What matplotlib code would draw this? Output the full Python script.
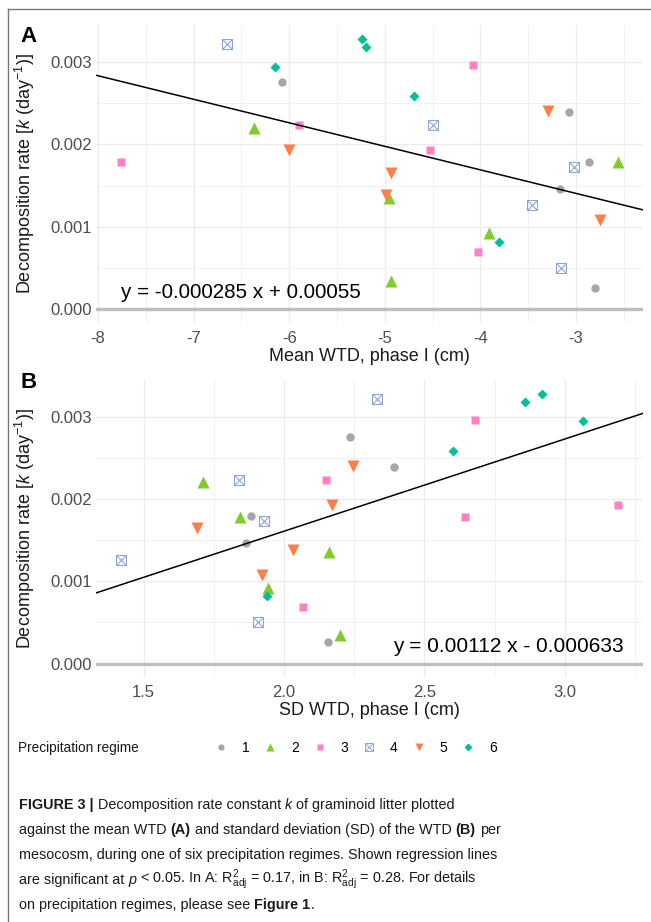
import matplotlib
matplotlib.use("Agg")
import matplotlib.pyplot as plt
import numpy as np
from matplotlib.lines import Line2D
from matplotlib.ticker import MultipleLocator, FormatStrFormatter

plt.rcParams['font.family'] = ['Liberation Sans', 'DejaVu Sans']
plt.rcParams['axes.unicode_minus'] = False
plt.rcParams['mathtext.fontset'] = 'custom'
plt.rcParams['mathtext.rm'] = 'Liberation Sans'
plt.rcParams['mathtext.it'] = 'Liberation Sans:italic'
plt.rcParams['mathtext.bf'] = 'Liberation Sans:bold'

# data: decomposition rate k per mesocosm, by precipitation regime
regimes = ['1', '2', '3', '4', '5', '6']
k_rate = {
    '1': [0.00275, 0.00239, 0.00179, 0.00146, 0.00026],
    '2': [0.00220, 0.00178, 0.00135, 0.00092, 0.00035],
    '3': [0.00296, 0.00223, 0.00193, 0.00178, 0.00069],
    '4': [0.00321, 0.00223, 0.00173, 0.00126, 0.00050],
    '5': [0.00240, 0.00193, 0.00165, 0.00138, 0.00108],
    '6': [0.00328, 0.00318, 0.00294, 0.00258, 0.00082],
}
mean_wtd = {
    '1': [-6.08, -3.07, -2.86, -3.17, -2.80],
    '2': [-6.37, -2.56, -4.96, -3.91, -4.93],
    '3': [-4.08, -5.90, -4.53, -7.76, -4.03],
    '4': [-6.65, -4.50, -3.02, -3.46, -3.16],
    '5': [-3.29, -6.00, -4.94, -4.99, -2.75],
    '6': [-5.24, -5.20, -6.15, -4.69, -3.81],
}
sd_wtd = {
    '1': [2.236, 2.393, 1.882, 1.863, 2.155],
    '2': [1.713, 1.845, 2.159, 1.944, 2.200],
    '3': [2.682, 2.148, 3.190, 2.645, 2.068],
    '4': [2.331, 1.841, 1.927, 1.419, 1.908],
    '5': [2.245, 2.170, 1.690, 2.033, 1.920],
    '6': [2.920, 2.859, 3.064, 2.601, 1.939],
}
fit_a = (-0.000285, 0.00055)
fit_b = (0.00112, -0.000633)

colors = {'1': '#A6A6A6', '2': '#7FCC2E', '3': '#FF80C4', '4': '#8FA5D0',
          '5': '#FF7F4A', '6': '#00BF99'}
markers = {'1': 'o', '2': '^', '3': 's', '4': 's', '5': 'v', '6': 'D'}
msize = {'1': 6, '2': 8, '3': 6, '4': 7, '5': 8, '6': 5.5}

W, H = 651, 922
fig = plt.figure(figsize=(W / 100, H / 100), dpi=100)

# page frame
fig.add_artist(Line2D([8 / W, 8 / W], [0, 1 - 9 / H], color='#777777', lw=1))
fig.add_artist(Line2D([8 / W, 1], [1 - 9 / H, 1 - 9 / H], color='#777777', lw=1))


def panel(ax, xdata, fit, xmajor, xfmt, xlabel):
    allx = np.concatenate([xdata[r] for r in regimes])
    ally = np.concatenate([k_rate[r] for r in regimes] + [[0.0]])
    xr = allx.max() - allx.min()
    yr = ally.max() - ally.min()
    xlim = (allx.min() - 0.05 * xr, allx.max() + 0.05 * xr)
    ax.set_xlim(xlim)
    ax.set_ylim(ally.min() - 0.05 * yr, ally.max() + 0.05 * yr)

    ax.xaxis.set_major_locator(MultipleLocator(xmajor))
    ax.xaxis.set_minor_locator(MultipleLocator(xmajor / 2))
    ax.xaxis.set_major_formatter(FormatStrFormatter(xfmt))
    ax.yaxis.set_major_locator(MultipleLocator(0.001))
    ax.yaxis.set_minor_locator(MultipleLocator(0.0005))
    ax.yaxis.set_major_formatter(FormatStrFormatter('%.3f'))
    ax.grid(True, which='major', color='#EBEBEB', lw=0.9)
    ax.grid(True, which='minor', color='#EFEFEF', lw=0.6)
    ax.set_axisbelow(True)
    for s in ax.spines.values():
        s.set_visible(False)
    ax.tick_params(which='both', length=0)
    ax.tick_params(axis='y', labelsize=12, labelcolor='#4D4D4D', pad=3)
    ax.tick_params(axis='x', labelsize=12, labelcolor='#4D4D4D', pad=6)

    ax.axhline(0, color='#BEBEBE', lw=2.4, zorder=1)

    for r in regimes:
        if r == '4':
            ax.plot(xdata[r], k_rate[r], ls='none', marker='s', ms=msize[r],
                    mfc='none', mec=colors[r], mew=0.8, zorder=3)
            ax.plot(xdata[r], k_rate[r], ls='none', marker='x', ms=msize[r] * 0.95,
                    mec=colors[r], mew=0.8, zorder=3)
        else:
            ax.plot(xdata[r], k_rate[r], ls='none', marker=markers[r], ms=msize[r],
                    color=colors[r], mec='none', zorder=3)

    xs = np.array(xlim)
    ax.plot(xs, fit[0] * xs + fit[1], color='black', lw=1.1, zorder=4)

    ax.set_xlabel(xlabel, fontsize=13, color='#1A1A1A')
    ax.set_ylabel(r'Decomposition rate [$\mathit{k}$ (day$^{-1}$)]', fontsize=13,
                  color='#1A1A1A')
    ax.xaxis.set_label_coords(0.5, -0.083)
    ax.yaxis.set_label_coords(-0.108, 0.5)


ax_a = fig.add_axes([96 / W, 1 - 323 / H, 547 / W, 298 / H])
panel(ax_a, mean_wtd, fit_a, 1, '%d', 'Mean WTD, phase I (cm)')
ax_a.text(0.046, 0.104, 'y = -0.000285 x + 0.00055', transform=ax_a.transAxes,
          fontsize=14.9, va='center', ha='left', color='black')

ax_b = fig.add_axes([96 / W, 1 - 677 / H, 547 / W, 297 / H])
panel(ax_b, sd_wtd, fit_b, 0.5, '%.1f', 'SD WTD, phase I (cm)')
ax_b.text(0.965, 0.104, 'y = 0.00112 x - 0.000633', transform=ax_b.transAxes,
          fontsize=15, va='center', ha='right', color='black')

fig.text(20 / W, 1 - 37 / H, 'A', fontsize=16, fontweight='bold', va='center', ha='left')
fig.text(20 / W, 1 - 383 / H, 'B', fontsize=16, fontweight='bold', va='center', ha='left')

# legend
fig.text(18 / W, 1 - 748 / H, 'Precipitation regime', fontsize=9.8, va='center',
         ha='left', color='#1A1A1A')
handles = []
for r in regimes:
    if r == '4':
        h = (Line2D([], [], ls='none', marker='s', ms=6, mfc='none', mec=colors[r], mew=0.7),
             Line2D([], [], ls='none', marker='x', ms=5.7, mec=colors[r], mew=0.7))
    else:
        h = Line2D([], [], ls='none', marker=markers[r], ms=msize[r] * 0.75,
                   color=colors[r], mec='none')
    handles.append(h)
fig.legend(handles, regimes, loc='center left', bbox_to_anchor=(214 / W, 1 - 748 / H),
           ncol=6, frameon=False, fontsize=10, handlelength=1, handletextpad=1.0,
           columnspacing=1.0, borderpad=0, borderaxespad=0)

# caption, drawn segment by segment
cap_font = ['Liberation Sans Narrow', 'Liberation Sans']
cap_size = 10.4
renderer = fig.canvas.get_renderer()


def text_width(s, **kw):
    t = fig.text(0, 0, s, fontsize=cap_size, family=cap_font, **kw)
    w = t.get_window_extent(renderer).width
    t.remove()
    return w


space_w = text_width('a a') - text_width('aa')

N, B, I = {}, {'fontweight': 'bold'}, {'style': 'italic'}
caption = [
    [('FIGURE 3 |', B, False), ('Decomposition rate constant', N, True), ('k', I, True),
     ('of graminoid litter plotted', N, True)],
    [('against the mean WTD', N, False), ('(A)', B, True),
     ('and standard deviation (SD) of the WTD', N, True), ('(B)', B, True), ('per', N, True)],
    [('mesocosm, during one of six precipitation regimes. Shown regression lines', N, False)],
    [('are significant at', N, False), ('p', I, True),
     (r'< 0.05. In A: R$^{2}_{\mathrm{adj}}$ = 0.17, in B: R$^{2}_{\mathrm{adj}}$ = 0.28. For details',
      N, True)],
    [('on precipitation regimes, please see', N, False), ('Figure 1', B, True), ('.', N, False)],
]
line_y = [805, 830, 855, 880, 905]
for segs, yy in zip(caption, line_y):
    x = 19.0
    for s, kw, sp in segs:
        if sp:
            x += space_w
        t = fig.text(x / W, 1 - yy / H, s, fontsize=cap_size, family=cap_font,
                     va='center', ha='left', color='#1A1A1A', **kw)
        x += t.get_window_extent(renderer).width

fig.savefig('out.png', dpi=100)
